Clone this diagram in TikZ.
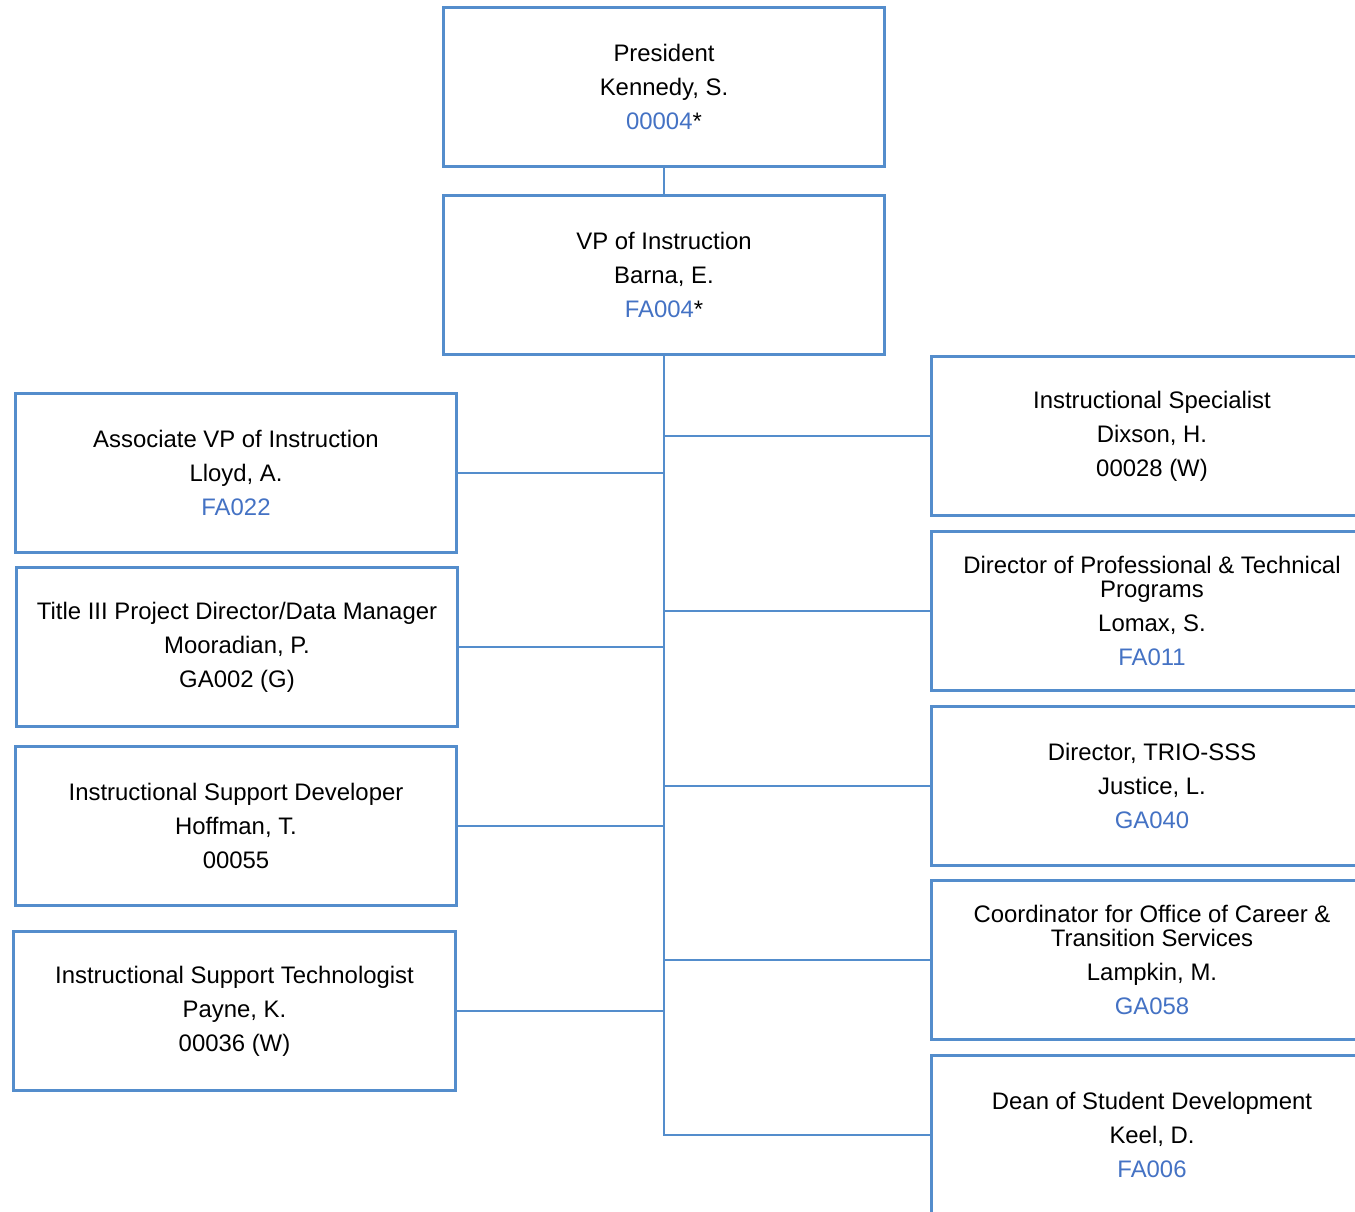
\documentclass[tikz,border=0pt]{standalone}
\usepackage{fontspec}
\setmainfont{Liberation Sans}
\usepackage{xcolor}
\usepackage{tikz}
\usetikzlibrary{calc}
\definecolor{lineblue}{RGB}{84,141,204}
\definecolor{posblue}{RGB}{68,114,196}
\newcommand\posn[1]{\textcolor{posblue}{#1}}
\tikzset{unitbox/.style={draw=lineblue, line width=0.06cm, fill=white, minimum width=8.84cm, minimum height=3.2cm, inner sep=0pt, align=center, font=\fontsize{13.6}{19.4}\selectfont},
link/.style={draw=lineblue, line width=0.05cm}}
\begin{document}
\begin{tikzpicture}[x=0.02cm,y=-0.02cm]
                    \useasboundingbox (0,0) rectangle (1355,1212);
                    \clip (0,0) rectangle (1355,1212);

                    % Top of the chart
                    \node[unitbox] (pres) at (664,87) {President\\Kennedy, S.\\\posn{00004}*};
                    \node[unitbox] (vpi) at (664,275) {VP of Instruction\\Barna, E.\\\posn{FA004}*};

                    % Left column
                    \node[unitbox] (avp) at (236,473) {Associate VP of Instruction\\Lloyd, A.\\\posn{FA022}};
                    \node[unitbox] (t3) at (237,647) {Title III Project Director/Data Manager\\Mooradian, P.\\GA002 (G)};
                    \node[unitbox] (isd) at (236,826) {Instructional Support Developer\\Hoffman, T.\\00055};
                    \node[unitbox] (ist) at (234.5,1011) {Instructional Support Technologist\\Payne, K.\\00036 (W)};

                    % Right column
                    \node[unitbox] (isp) at (1152,436) {Instructional Specialist\\Dixson, H.\\00028 (W)};
                    \node[unitbox] (dpt) at (1152,611) {Director of Professional \& Technical\\[-0.2cm]Programs\\Lomax, S.\\\posn{FA011}};
                    \node[unitbox] (trio) at (1152,786) {Director, TRIO-SSS\\Justice, L.\\\posn{GA040}};
                    \node[unitbox] (cots) at (1152,960) {Coordinator for Office of Career \&\\[-0.2cm]Transition Services\\Lampkin, M.\\\posn{GA058}};
                    \node[unitbox] (dsd) at (1152,1135) {Dean of Student Development\\Keel, D.\\\posn{FA006}};

                    % Connectors
                    \draw[link] (pres) -- (vpi);
                    \draw[link] (vpi.south) |- (dsd.west);
                    \foreach \n in {avp,t3,isd,ist}
                        \draw[link] (\n.east) -- (\n.east -| vpi.south);
                    \foreach \n in {isp,dpt,trio,cots}
                        \draw[link] (\n.west -| vpi.south) -- (\n.west);

                \end{tikzpicture}
\end{document}
